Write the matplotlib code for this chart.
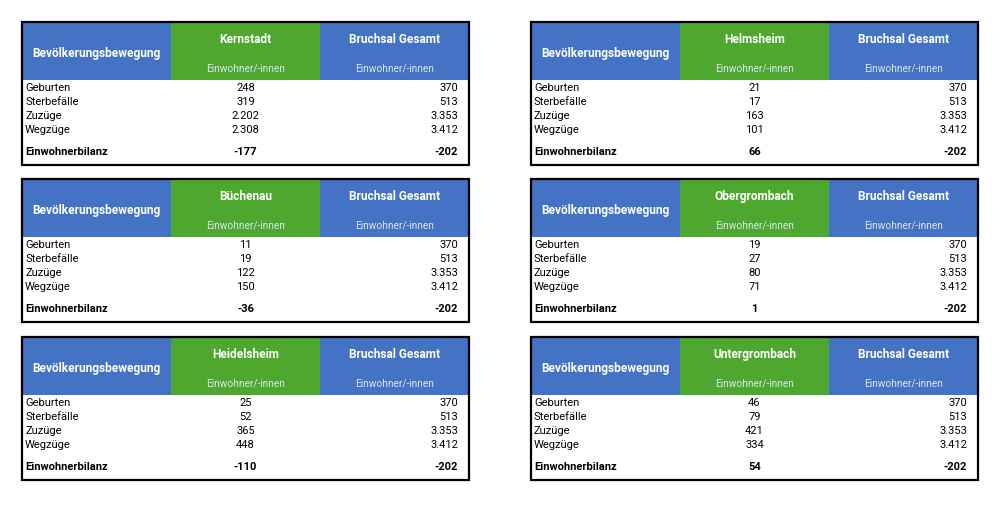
import matplotlib.pyplot as plt
from matplotlib.patches import Rectangle

plt.rcParams['font.family'] = ['Roboto', 'DejaVu Sans']

# data per Stadtteil
regions = ["Kernstadt", "Helmsheim", "Büchenau", "Obergrombach", "Heidelsheim", "Untergrombach"]
geburten = [248, 21, 11, 19, 25, 46]
sterbefaelle = [319, 17, 19, 27, 52, 79]
zuzuege = [2202, 163, 122, 80, 365, 421]
wegzuege = [2308, 101, 150, 71, 448, 334]
bilanz = [-177, 66, -36, 1, -110, 54]

# Bruchsal gesamt (same in every table)
row_labels = ["Geburten", "Sterbefälle", "Zuzüge", "Wegzüge"]
gesamt_rows = [370, 513, 3353, 3412]
gesamt_bilanz = -202

BLUE = "#4472C4"
GREEN = "#4EA72E"


def fmt(v):
    return f"{v:,}".replace(",", ".")


fig = plt.figure(figsize=(10, 5.07), dpi=100)
ax = fig.add_axes([0, 0, 1, 1])
ax.set_xlim(0, 1000)
ax.set_ylim(507, 0)
ax.axis("off")

lefts = [22, 531]
tops = [22, 179, 337]
W = 447
cw = W / 3
HH = 58
H = 143

for i, name in enumerate(regions):
    x0 = lefts[i % 2]
    y0 = tops[i // 2]
    # header
    ax.add_patch(Rectangle((x0, y0), cw, HH, color=BLUE, lw=0))
    ax.add_patch(Rectangle((x0 + cw, y0), cw, HH, color=GREEN, lw=0))
    ax.add_patch(Rectangle((x0 + 2 * cw, y0), cw, HH, color=BLUE, lw=0))
    ax.add_patch(Rectangle((x0, y0), W, H, fill=False, ec="black", lw=1.6, zorder=5))

    # baseline aligned so descenders (g) don't shift the text
    ax.text(x0 + cw / 2, y0 + 35, "Bevölkerungsbewegung", color="white",
            fontsize=8.6, fontweight="bold", ha="center", va="baseline")
    ax.text(x0 + cw * 1.5, y0 + 21, name, color="white",
            fontsize=8.6, fontweight="bold", ha="center", va="baseline")
    ax.text(x0 + cw * 2.5, y0 + 21, "Bruchsal Gesamt", color="white",
            fontsize=8.6, fontweight="bold", ha="center", va="baseline")
    for k in (1.5, 2.5):
        ax.text(x0 + cw * k, y0 + 49.5, "Einwohner/-innen", color="#dfe6f2",
                fontsize=7.3, ha="center", va="baseline")

    vals = [geburten[i], sterbefaelle[i], zuzuege[i], wegzuege[i]]
    for r, lab in enumerate(row_labels):
        y = y0 + 69 + r * 14
        ax.text(x0 + 3, y, lab, fontsize=8, ha="left", va="baseline")
        ax.text(x0 + cw * 1.5, y, fmt(vals[r]), fontsize=8, ha="center", va="baseline")
        ax.text(x0 + W - 11, y, fmt(gesamt_rows[r]), fontsize=8, ha="right", va="baseline")

    y = y0 + 133
    ax.text(x0 + 3, y, "Einwohnerbilanz", fontsize=8, fontweight="bold", ha="left", va="baseline")
    ax.text(x0 + cw * 1.5, y, fmt(bilanz[i]), fontsize=8, fontweight="bold", ha="center", va="baseline")
    ax.text(x0 + W - 11, y, fmt(gesamt_bilanz), fontsize=8, fontweight="bold", ha="right", va="baseline")

fig.savefig("out.png", dpi=100)
